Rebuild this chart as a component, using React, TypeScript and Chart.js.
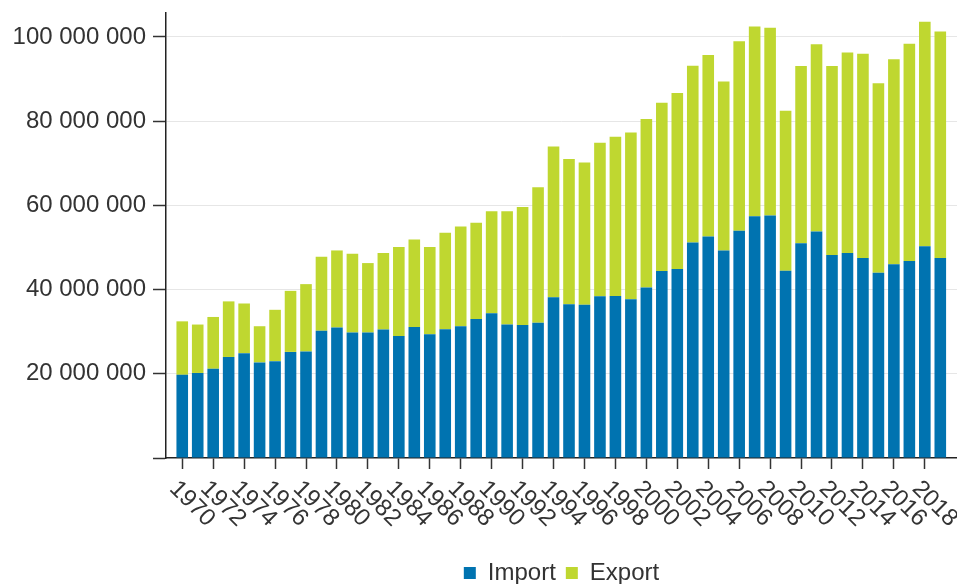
import React, { useEffect, useRef } from "react";
import { Chart, registerables } from "chart.js";

Chart.register(...registerables);

const years: number[] = [
  1970, 1971, 1972, 1973, 1974, 1975, 1976, 1977, 1978, 1979,
  1980, 1981, 1982, 1983, 1984, 1985, 1986, 1987, 1988, 1989,
  1990, 1991, 1992, 1993, 1994, 1995, 1996, 1997, 1998, 1999,
  2000, 2001, 2002, 2003, 2004, 2005, 2006, 2007, 2008, 2009,
  2010, 2011, 2012, 2013, 2014, 2015, 2016, 2017, 2018, 2019,
];

const importValues: number[] = [
  19760000, 20200000, 21200000, 24000000, 24900000, 22700000, 23000000, 25200000, 25300000, 30200000,
  31000000, 29800000, 29800000, 30500000, 29000000, 31100000, 29400000, 30600000, 31300000, 33000000,
  34400000, 31700000, 31600000, 32100000, 38200000, 36500000, 36400000, 38400000, 38500000, 37700000,
  40500000, 44400000, 44900000, 51200000, 52600000, 49300000, 54000000, 57400000, 57600000, 44500000,
  51000000, 53800000, 48200000, 48700000, 47500000, 44000000, 46000000, 46800000, 50300000, 47500000,
];

const exportValues: number[] = [
  12700000, 11500000, 12300000, 13200000, 11800000, 8600000, 12200000, 14500000, 16000000, 17600000,
  18300000, 18700000, 16500000, 18200000, 21100000, 20800000, 20700000, 22900000, 23700000, 22900000,
  24200000, 26900000, 28000000, 32200000, 35800000, 34500000, 33800000, 36500000, 37800000, 39600000,
  40000000, 40000000, 41800000, 42000000, 43100000, 40100000, 45000000, 45100000, 44600000, 38000000,
  42100000, 44500000, 44900000, 47600000, 48500000, 45000000, 48700000, 51600000, 53300000, 53800000,
];

const xTickYears: number[] = [
  1970, 1972, 1974, 1976, 1978, 1980, 1982, 1984, 1986, 1988, 1990, 1992,
  1994, 1996, 1998, 2000, 2002, 2004, 2006, 2008, 2010, 2012, 2014, 2016, 2018,
];

const yTickValues: number[] = [0, 20000000, 40000000, 60000000, 80000000, 100000000];

const seriesNames: string[] = ["Import", "Export"];

const FONT_FAMILY = '"Liberation Sans", Arial, Helvetica, sans-serif';
const TEXT_COLOR = "#333333";

const formatSpaced = (v: number): string =>
  v === 0 ? "" : String(v).replace(/\B(?=(\d{3})+(?!\d))/g, " ");

const xLabelPlugin = {
  id: "rotatedXLabels",
  afterDraw(chart: any) {
    const scale = chart.scales.x;
    const ctx = chart.ctx;
    ctx.save();
    ctx.font = `24px ${FONT_FAMILY}`;
    ctx.fillStyle = TEXT_COLOR;
    ctx.textAlign = "left";
    ctx.textBaseline = "middle";
    scale.ticks.forEach((t: any) => {
      const x = scale.getPixelForValue(t.value);
      ctx.save();
      ctx.translate(x - 9, scale.top + 27);
      ctx.rotate(Math.PI / 4);
      ctx.fillText(String(t.value), 0, 0);
      ctx.restore();
    });
    ctx.restore();
  },
};

export default function App() {
  const canvasRef = useRef<HTMLCanvasElement | null>(null);

  useEffect(() => {
    if (!canvasRef.current) return;
    const chart = new Chart(canvasRef.current, {
      type: "bar",
      data: {
        datasets: [
          {
            label: seriesNames[0],
            data: years.map((y, i) => ({ x: y, y: importValues[i] })),
            backgroundColor: "#0073b0",
            borderWidth: 0,
            barPercentage: 0.75,
            categoryPercentage: 1,
          },
          {
            label: seriesNames[1],
            data: years.map((y, i) => ({ x: y, y: exportValues[i] })),
            backgroundColor: "#bfd730",
            borderWidth: 0,
            barPercentage: 0.75,
            categoryPercentage: 1,
          },
        ],
      },
      plugins: [xLabelPlugin],
      options: {
        animation: false,
        responsive: true,
        maintainAspectRatio: false,
        layout: { padding: { top: 13, left: 0, right: 0, bottom: -11 } },
        font: { family: FONT_FAMILY },
        plugins: {
          tooltip: { enabled: false },
          legend: {
            position: "bottom",
            fullSize: false,
            labels: {
              boxWidth: 12,
              boxHeight: 12,
              padding: 10,
              color: TEXT_COLOR,
              font: { family: FONT_FAMILY, size: 24 },
            },
          },
        },
        scales: {
          x: {
            type: "linear",
            stacked: true,
            offset: false,
            min: 1968.95,
            max: 2020.08,
            afterBuildTicks: (axis: any) => {
              axis.ticks = xTickYears.map((v) => ({ value: v }));
            },
            afterFit: (scale: any) => {
              scale.height = 93;
              scale.paddingLeft = 0;
              scale.paddingRight = 0;
            },
            ticks: { display: false },
            grid: {
              offset: false,
              drawOnChartArea: false,
              drawTicks: true,
              tickLength: 11,
              tickColor: "#333333",
              tickWidth: 1.5,
            },
            border: { display: true, color: "#222222", width: 1.5 },
          },
          y: {
            type: "linear",
            stacked: true,
            min: 0,
            max: 105700000,
            afterBuildTicks: (axis: any) => {
              axis.ticks = yTickValues.map((v) => ({ value: v }));
            },
            afterFit: (scale: any) => {
              scale.width = 166;
              scale.paddingTop = 0;
              scale.paddingBottom = 0;
            },
            ticks: {
              padding: 7,
              color: TEXT_COLOR,
              font: { family: FONT_FAMILY, size: 24 },
              callback: (v: any) => formatSpaced(Number(v)),
            },
            grid: {
              color: (c: any) => (c.tick && c.tick.value === 0 ? "rgba(0,0,0,0)" : "#e6e6e6"),
              lineWidth: 1,
              tickLength: 13,
              tickColor: "#333333",
              tickWidth: 1.5,
            },
            border: { display: true, color: "#222222", width: 1.5 },
          },
        },
      },
    } as any);
    return () => chart.destroy();
  }, []);

  return (
    <div style={{ position: "absolute", left: 0, top: 0, width: 957, height: 584 }}>
      <canvas ref={canvasRef} />
    </div>
  );
}
